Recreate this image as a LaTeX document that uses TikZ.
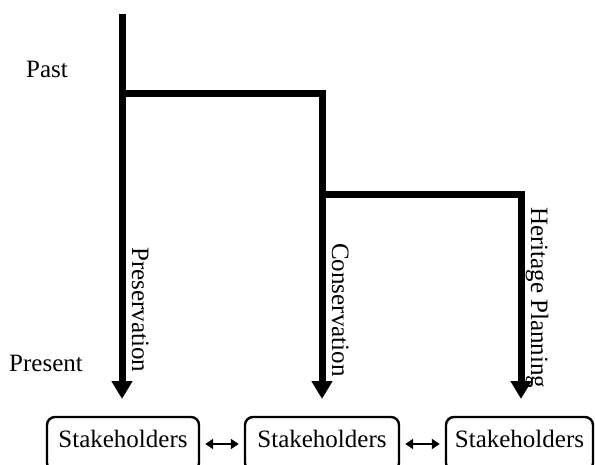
\documentclass[tikz,border=0pt]{standalone}
\usepackage{fontspec}
\setmainfont{Liberation Serif}
\usetikzlibrary{arrows.meta}
\begin{document}
\begin{tikzpicture}[x=1pt,y=-1pt,
  every node/.style={font=\fontsize{25}{30}\selectfont},
  timeline/.style={line width=7pt,line join=miter,-{Triangle[length=18pt,width=20pt]}},
  stakebox/.style={draw,line width=2.4pt,rounded corners=8pt,minimum height=54pt,inner sep=0pt,text height=17pt,text depth=11pt},
  lbl/.style={inner sep=0pt,anchor=base west},
  vlbl/.style={inner sep=0pt,anchor=base west,rotate=-90},
  link/.style={line width=2.4pt,{Triangle[length=8pt,width=10pt]}-{Triangle[length=8pt,width=10pt]},shorten <=5pt,shorten >=5pt}]
\useasboundingbox (0,0) rectangle (595,464);
% coordinates
\coordinate (top) at (122,14);
\coordinate (j1) at (122,93.5);
\coordinate (j2) at (322,194);
\coordinate (e1) at (122,399);
\coordinate (e2) at (322,399);
\coordinate (e3) at (521,399);
% timelines
\draw[timeline] (top) -- (e1);
\draw[timeline] (j1) -| (e2);
\draw[timeline] (j2) -| (e3);
% labels
\node[lbl] (past) at (26,77) {Past};
\node[lbl] (present) at (9,371) {Present};
\node[vlbl] (pres) at (132,247) {Preservation};
\node[vlbl] (cons) at (332,243) {Conservation};
\node[vlbl] (herit) at (531,207) {Heritage Planning};
% stakeholder boxes
\node[stakebox,minimum width=152pt] (b1) at (123,444) {Stakeholders};
\node[stakebox,minimum width=154pt] (b2) at (322,444) {Stakeholders};
\node[stakebox,minimum width=147pt] (b3) at (519.5,444) {Stakeholders};
\draw[link] (b1.east) -- (b2.west);
\draw[link] (b2.east) -- (b3.west);
\end{tikzpicture}
\end{document}
